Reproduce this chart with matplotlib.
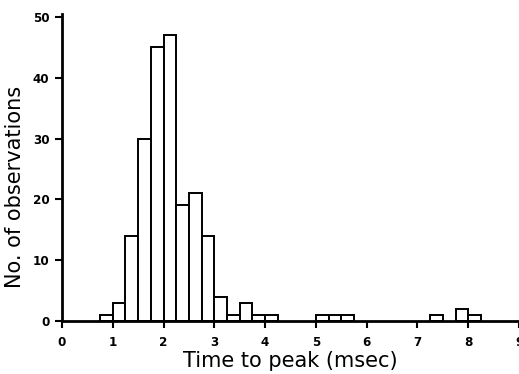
import matplotlib
matplotlib.use("Agg")
import matplotlib.pyplot as plt
import numpy as np

# histogram of time to peak, 0.25 msec bins
bin_left = [0.75, 1.0, 1.25, 1.5, 1.75, 2.0, 2.25, 2.5, 2.75, 3.0, 3.25, 3.5, 3.75, 4.0,
            5.0, 5.25, 5.5, 7.25, 7.75, 8.0]
counts = [1, 3, 14, 30, 45, 47, 19, 21, 14, 4, 1, 3, 1, 1,
          1, 1, 1, 1, 2, 1]
bin_width = 0.25

x_ticks = list(range(0, 10))
y_ticks = [0, 10, 20, 30, 40, 50]

fig = plt.figure(figsize=(5.19, 3.74), dpi=100)
ax = fig.add_axes([0.1195, 0.1417, 0.8805, 0.8209])

ax.bar(bin_left, counts, width=bin_width, align='edge', facecolor='white',
       edgecolor='black', linewidth=1.4)

ax.set_xlim(0, 9)
ax.set_ylim(0, 50.5)
ax.spines['top'].set_visible(False)
ax.spines['right'].set_visible(False)
ax.spines['left'].set_linewidth(2)
ax.spines['bottom'].set_linewidth(2)

ax.set_xticks(x_ticks)
ax.set_yticks(y_ticks)
ax.tick_params(axis='both', direction='out', length=5, width=1.5)
ax.tick_params(axis='x', pad=6)
ax.tick_params(axis='y', pad=4)
for lab in ax.get_xticklabels() + ax.get_yticklabels():
    lab.set_family('DejaVu Sans')
    lab.set_fontstretch('condensed')
    lab.set_fontsize(9.5)
    lab.set_fontweight('bold')

ax.set_xlabel("Time to peak (msec)", fontsize=15, family='DejaVu Sans', labelpad=1)
ax.set_ylabel("No. of observations", fontsize=15, family='DejaVu Sans')
ax.yaxis.set_label_coords(-0.081, 0.436)

plt.savefig("out.png", dpi=100)
